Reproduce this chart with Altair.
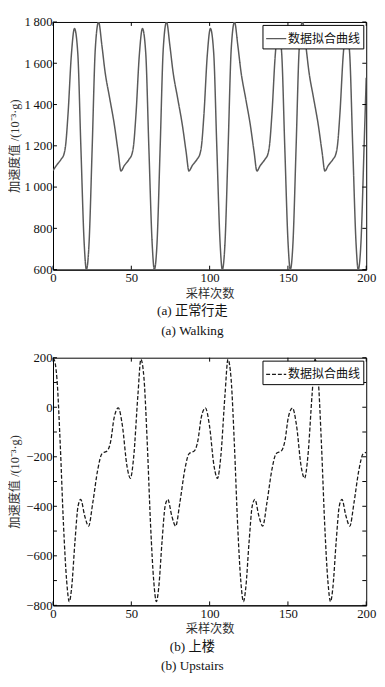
import altair as alt
import pandas as pd

# ---------------- data ----------------
walk_x = [0, 2.1, 5.2, 7.0, 8.0, 9.6, 11.7, 13.7, 15.8, 17.8, 19.9, 21.3, 23.0, 25.0, 27.0, 29.1, 31.2, 33.2, 36.2, 39.2, 41.6,
          43.4, 45.5, 48.6, 50.4, 51.4, 53.0, 55.1, 57.1, 59.2, 61.2, 63.3, 64.7, 66.4, 68.4, 70.4, 72.5, 74.6, 76.6, 79.6, 82.6, 85.0,
          86.8, 88.9, 92.0, 93.8, 94.8, 96.4, 98.5, 100.5, 102.6, 104.6, 106.7, 108.1, 109.8, 111.8, 113.8, 115.9, 118.0, 120.0, 123.0, 126.0, 128.4,
          130.2, 132.3, 135.4, 137.2, 138.2, 139.8, 141.9, 143.9, 146.0, 148.0, 150.1, 151.5, 153.2, 155.2, 157.2, 159.3, 161.4, 163.4, 166.4, 169.4, 171.8,
          173.6, 175.7, 178.8, 180.6, 181.6, 183.2, 185.3, 187.3, 189.4, 191.4, 193.5, 194.9, 196.6, 198.6, 200.0]
walk_y = [1080, 1104, 1135, 1160, 1200, 1356, 1639, 1768, 1650, 1190, 727, 600, 727, 1190, 1671, 1800, 1687, 1560, 1430, 1300, 1170,
          1078, 1104, 1135, 1160, 1200, 1356, 1639, 1768, 1650, 1190, 727, 600, 727, 1190, 1671, 1800, 1687, 1560, 1430, 1300, 1170,
          1078, 1104, 1135, 1160, 1200, 1356, 1639, 1768, 1650, 1190, 727, 600, 727, 1190, 1671, 1800, 1687, 1560, 1430, 1300, 1170,
          1078, 1104, 1135, 1160, 1200, 1356, 1639, 1768, 1650, 1190, 727, 600, 727, 1190, 1671, 1800, 1687, 1560, 1430, 1300, 1170,
          1078, 1104, 1135, 1160, 1200, 1356, 1639, 1768, 1650, 1190, 727, 600, 727, 1190, 1530]

up_x = [0, 0.5, 2.5, 4.6, 6.7, 8.7, 10.4, 11.9, 14.0, 16.0, 17.7, 20.2, 22.7, 25.4, 28.5, 31.2, 34.8, 36.9, 39.0, 41.7, 44.2, 47.3, 49.4, 51.5, 54.2,
        56.1, 58.1, 60.2, 62.3, 64.3, 66.0, 67.5, 69.6, 71.6, 73.3, 75.8, 78.3, 81.0, 84.1, 86.8, 90.4, 92.5, 94.6, 97.3, 99.8, 102.9, 105.0, 107.1, 109.8,
        111.7, 113.7, 115.8, 117.9, 119.9, 121.6, 123.1, 125.2, 127.2, 128.9, 131.4, 133.9, 136.6, 139.7, 142.4, 146.0, 148.1, 150.2, 152.9, 155.4, 158.5, 160.6, 162.7, 165.4,
        167.3, 169.3, 171.4, 173.5, 175.5, 177.2, 178.7, 180.8, 182.8, 184.5, 187.0, 189.5, 192.2, 195.3, 198.0, 200.0]
up_y = [188, 193, 115, -149, -477, -701, -785, -728, -543, -399, -372, -438, -480, -385, -254, -188, -175, -135, -43, -3, -70, -241, -287, -201, 49,
        193, 115, -149, -477, -701, -785, -728, -543, -399, -372, -438, -480, -385, -254, -188, -175, -135, -43, -3, -70, -241, -287, -201, 49,
        193, 115, -149, -477, -701, -785, -728, -543, -399, -372, -438, -480, -385, -254, -188, -175, -135, -43, -3, -70, -241, -287, -201, 49,
        193, 115, -149, -477, -701, -785, -728, -543, -399, -372, -438, -480, -385, -254, -188, -182]

series_name = "数据拟合曲线"
x_ticks = [0, 50, 100, 150, 200]
walk_y_ticks = [600, 800, 1000, 1200, 1400, 1600, 1800]
walk_y_labels = ["600", "800", "1\u2009000", "1\u2009200", "1\u2009400", "1\u2009600", "1\u2009800"]
up_y_ticks = [-800, -700, -600, -500, -400, -300, -200, -100, 0, 100, 200]
up_y_labels = ["\u2212800", "\u2212700", "\u2212600", "\u2212500", "\u2212400", "\u2212300",
               "\u2212200", "\u2212100", "0", "100", "200"]
x_title = "采样次数"
y_title = "加速度值 /(10⁻³·g)"
caption_a = ["(a) 正常行走", "(a) Walking"]
caption_b = ["(b) 上楼", "(b) Upstairs"]

# ---------------- style ----------------
W, H = 320, 253
SERIF = "Liberation Serif, Noto Sans CJK SC"
TICK = 4


def label_expr(vals, labs):
    expr = "datum.label"
    for v, l in zip(reversed(vals), reversed(labs)):
        expr = f"datum.value == {v} ? '{l}' : ({expr})"
    return expr


def panel(xs, ys, dom, yt, yl, dash, color, sw, caption):
    df = pd.DataFrame({"x": xs, "y": ys, "s": [series_name] * len(xs)})
    xsc = alt.Scale(domain=[0, 200], nice=False, zero=False)
    ysc = alt.Scale(domain=dom, nice=False, zero=False)
    line = alt.Chart(df).mark_line(color=color, strokeWidth=sw, interpolate="monotone", clip=True).encode(
        x=alt.X("x:Q", scale=xsc, axis=alt.Axis(values=x_ticks, title=x_title)),
        y=alt.Y("y:Q", scale=ysc, axis=alt.Axis(values=yt, title=y_title, labelExpr=label_expr(yt, yl))),
        strokeDash=alt.StrokeDash(
            "s:N",
            scale=alt.Scale(domain=[series_name], range=[dash]),
            legend=alt.Legend(title=None, orient="top-right", offset=3, fillColor="white",
                              strokeColor="black", padding=3, symbolType="stroke", symbolSize=420,
                              symbolStrokeWidth=sw, symbolStrokeColor=color,
                              labelFont="Noto Sans CJK SC", labelFontSize=12.3, labelColor="#111",
                              labelOffset=1),
        ),
    )
    xt = pd.DataFrame({"x": x_ticks})
    ytd = pd.DataFrame({"y": yt})
    tb = alt.Chart(xt).mark_rule(color="black", strokeWidth=1).encode(
        x=alt.X("x:Q", scale=xsc), y=alt.value(H), y2=alt.value(H - TICK))
    tt = alt.Chart(xt).mark_rule(color="black", strokeWidth=1).encode(
        x=alt.X("x:Q", scale=xsc), y=alt.value(0), y2=alt.value(TICK))
    tl = alt.Chart(ytd).mark_rule(color="black", strokeWidth=1).encode(
        y=alt.Y("y:Q", scale=ysc), x=alt.value(0), x2=alt.value(TICK))
    tr = alt.Chart(ytd).mark_rule(color="black", strokeWidth=1).encode(
        y=alt.Y("y:Q", scale=ysc), x=alt.value(W), x2=alt.value(W - TICK))
    return alt.layer(line, tb, tt, tl, tr).properties(
        width=W, height=H,
        title=alt.TitleParams(text=caption, orient="bottom", anchor="middle", frame="bounds",
                              offset=5, font=SERIF, fontSize=13.5, fontWeight="normal",
                              lineHeight=20, color="#111"),
    )


a = panel(walk_x, walk_y, [600, 1800], walk_y_ticks, walk_y_labels, [1, 0], "#5a5a5a", 1.5, caption_a)
b = panel(up_x, up_y, [-800, 200], up_y_ticks, up_y_labels, [4, 2], "#1a1a1a", 1.3, caption_b)

chart = alt.vconcat(a, b, spacing=13).resolve_scale(
    strokeDash="independent", x="independent", y="independent"
).resolve_legend(strokeDash="independent").properties(padding=0).configure_view(
    stroke="black", strokeWidth=1
).configure_axis(
    domainColor="black", domainWidth=1, ticks=False, grid=False,
    labelFont="Liberation Serif", labelFontSize=13, labelColor="#111",
    titleFont=SERIF, titleFontSize=12.5, titleFontWeight="normal", titleColor="#333",
    labelFlush=False, labelOverlap=False,
).configure_axisX(
    labelPadding=2, titlePadding=3, labelFont="Liberation Serif"
).configure_axisY(
    labelPadding=1, titlePadding=2, minExtent=30, maxExtent=30, labelFont="Liberation Serif"
)

chart.save("out.html", embed_options={"renderer": "svg", "actions": False})
